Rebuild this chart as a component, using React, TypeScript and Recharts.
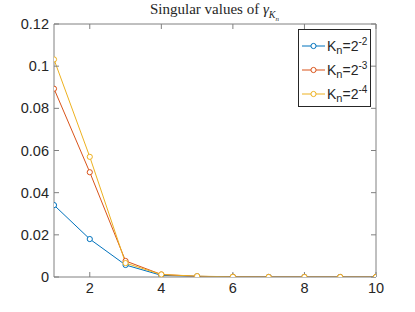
import { LineChart, Line, XAxis, YAxis } from "recharts";

const steps = [1, 2, 3, 4, 5, 6, 7, 8, 9, 10];
const kn2m2 = [0.0341, 0.018, 0.0057, 0.0008, 0.0003, 0.0001, 0, 0, 0, 0];
const kn2m3 = [0.0893, 0.0497, 0.0076, 0.0012, 0.0003, 0.0001, 0, 0, 0, 0];
const kn2m4 = [0.1032, 0.057, 0.0066, 0.0012, 0.0004, 0.0001, 0, 0, 0, 0];
const xTicks = [2, 4, 6, 8, 10];
const yTicks = [0, 0.02, 0.04, 0.06, 0.08, 0.1, 0.12];

const series = [
  { key: "a", exp: "-2", color: "#0072BD" },
  { key: "b", exp: "-3", color: "#D95319" },
  { key: "c", exp: "-4", color: "#EDB120" },
];

const data = steps.map((x, i) => ({ x, a: kn2m2[i], b: kn2m3[i], c: kn2m4[i] }));

const axisColor = "#808080";
const tickFont = { fontFamily: "Liberation Sans, Arial, sans-serif", fontSize: 14.5, fill: "#262626" };

const LegendBox = () => (
  <div
    style={{
      position: "absolute",
      left: 298,
      top: 29,
      zIndex: 2,
      border: "1px solid #262626",
      background: "#fff",
      width: 73,
      height: 78,
      boxSizing: "border-box",
      fontFamily: "Liberation Sans, Arial, sans-serif",
      fontSize: 14,
      color: "#262626",
      paddingTop: 4,
    }}
  >
    {series.map((s) => (
      <div key={s.key} style={{ display: "flex", alignItems: "center", height: 24 }}>
        <svg width={27} height={10} style={{ marginLeft: 1 }}>
          <line x1={2} y1={5} x2={25} y2={5} stroke={s.color} strokeWidth={1} />
          <circle cx={13.5} cy={5} r={2.6} fill="#fff" stroke={s.color} strokeWidth={1} />
        </svg>
        <span style={{ whiteSpace: "nowrap" }}>
          K<sub style={{ fontSize: 11 }}>n</sub>=2<sup style={{ fontSize: 10 }}>{s.exp}</sup>
        </span>
      </div>
    ))}
  </div>
);

export default function App() {
  return (
    <div style={{ position: "absolute", left: 0, top: 0, width: 415, height: 312, background: "#fff" }}>
      <div
        style={{
          position: "absolute",
          left: 0,
          width: 415,
          top: 1,
          paddingLeft: 14,
          boxSizing: "border-box",
          textAlign: "center",
          fontFamily: "Liberation Serif, Times New Roman, serif",
          fontSize: 15,
          color: "#262626",
          zIndex: 2,
        }}
      >
        Singular values of <i>γ</i>
        <sub style={{ fontSize: 10 }}>
          <i>K</i>
          <sub style={{ fontSize: 7 }}>
            <i>n</i>
          </sub>
        </sub>
      </div>
      <LegendBox />
      <LineChart width={415} height={312} data={data} margin={{ top: 0, right: 0, bottom: 0, left: 0 }}>
        <XAxis
          dataKey="x"
          type="number"
          domain={[1, 10]}
          ticks={xTicks}
          height={35}
          stroke={axisColor}
          tickSize={-5}
          tickMargin={11}
          tick={tickFont}
          allowDataOverflow
        />
        <XAxis
          xAxisId="top"
          orientation="top"
          dataKey="x"
          type="number"
          domain={[1, 10]}
          ticks={xTicks}
          height={24}
          stroke={axisColor}
          tickSize={-5}
          tickFormatter={() => ""}
        />
        <YAxis
          type="number"
          domain={[0, 0.12]}
          ticks={yTicks}
          width={54}
          stroke={axisColor}
          tickSize={-5}
          tickMargin={10}
          tick={tickFont}
          tickFormatter={(v: number) => String(Number(v.toFixed(2)))}
          allowDataOverflow
        />
        <YAxis
          yAxisId="right"
          orientation="right"
          type="number"
          domain={[0, 0.12]}
          ticks={yTicks}
          width={39}
          stroke={axisColor}
          tickSize={-5}
          tickFormatter={() => ""}
        />
        {/* invisible series so the top/right frame axes get drawn */}
        <Line
          xAxisId="top"
          yAxisId="right"
          dataKey="a"
          stroke="none"
          dot={false}
          activeDot={false}
          isAnimationActive={false}
        />
        {series.map((s) => (
          <Line
            key={s.key}
            dataKey={s.key}
            stroke={s.color}
            strokeWidth={1}
            dot={{ r: 2.6, stroke: s.color, strokeWidth: 1, fill: "#fff" }}
            activeDot={false}
            isAnimationActive={false}
          />
        ))}
      </LineChart>
    </div>
  );
}
